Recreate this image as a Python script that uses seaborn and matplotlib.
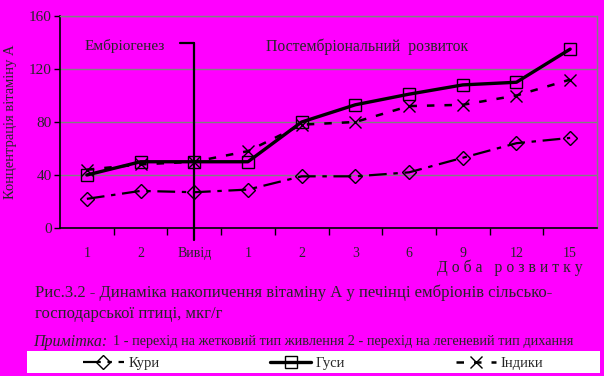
import matplotlib
matplotlib.use("Agg")
import matplotlib.pyplot as plt
import matplotlib.patches as mpatches
import seaborn as sns
import pandas as pd
import numpy as np

categories = ["1", "2", "Вивід", "1", "2", "3", "6", "9", "12", "15"]
kury = [22, 28, 27, 29, 39, 39, 42, 53, 64, 68]
gusy = [40, 50, 50, 50, 80, 93, 101, 108, 110, 135]
indyky = [44, 48, 50, 58, 78, 80, 92, 93, 100, 112]
series_names = ["Кури", "Гуси", "Індики"]

sns.set_theme(style="white")
plt.rcParams['font.family'] = ['Liberation Serif', 'DejaVu Serif']

MAG = "#FF00FF"
fig = plt.figure(figsize=(6.04, 3.76), dpi=100, facecolor=MAG)
ax = fig.add_axes([60/604, 1-228/376, 537/604, 212/376])
ax.set_facecolor(MAG)

idx = np.arange(len(categories))
df = pd.DataFrame({
    "x": np.concatenate([idx, idx, idx]),
    "y": kury + gusy + indyky,
    "s": np.repeat(series_names, len(categories)),
})

styles = {
    "Кури": dict(marker="D", ms=7, lw=1.6, dashes=(8, 3, 2, 3)),
    "Гуси": dict(marker="s", ms=9, lw=2.4, dashes=None),
    "Індики": dict(marker="x", ms=9, lw=1.8, dashes=(3, 4)),
}
handles = []
for name in series_names:
    st = styles[name]
    sub = df[df.s == name]
    sns.lineplot(data=sub, x="x", y="y", ax=ax, color="black", lw=st["lw"],
                 marker=st["marker"], markersize=st["ms"], markerfacecolor="none",
                 markeredgecolor="black", markeredgewidth=1.0, sort=False,
                 legend=False)
    ln = ax.lines[-1]
    if st["dashes"] is not None:
        ln.set_dashes(st["dashes"])
    handles.append(ln)

ax.set_xlim(-0.5, len(categories) - 0.5)
ax.set_ylim(0, 160)
ax.set_yticks([0, 40, 80, 120, 160])
ax.set_yticklabels(["0", "40", "80", "120", "160"], fontsize=11)
ax.set_xticks(idx)
ax.set_xticklabels(categories, fontsize=10)
ax.set_xticks(np.arange(0.5, len(categories) - 0.5, 1.0), minor=True)
ax.tick_params(axis="x", which="major", length=0, pad=14)
ax.tick_params(axis="x", which="minor", length=5, width=1, color="black", direction="out", bottom=True)
ax.tick_params(axis="y", which="major", length=4, width=1, color="black", direction="out", left=True, pad=2)
ax.set_xlabel("")
ax.set_ylabel("Концентрація вітаміну А", fontsize=10.5)
ax.yaxis.set_label_coords((17 - 60) / 537, 0.5)

ax.grid(axis="y", color="#808080", lw=1)
ax.set_axisbelow(True)
for side in ["left", "bottom"]:
    ax.spines[side].set_color("black")
    ax.spines[side].set_linewidth(1.2)
for side in ["top", "right"]:
    ax.spines[side].set_color("#808080")
    ax.spines[side].set_linewidth(1)

# separator between embryogenesis and post-embryonic development
ax.plot([2, 2], [-9, 139.5], color="black", lw=1.6, clip_on=False)
ax.plot([1.74, 2], [139.5, 139.5], color="black", lw=1.6, clip_on=False)

ax.text(0.71, 137, "Ембріогенез", fontsize=11, ha="center", va="center")
ax.text(5.22, 137, "Постембріональний  розвиток", fontsize=11.3, ha="center", va="center")

fig.text(583/604, 1-268/376, "Д о б а   р о з в и т к у", fontsize=11.3, ha="right", va="center")
fig.text(35/604, 1-293/376, "Рис.3.2 - Динаміка накопичення вітаміну А у печінці ембріонів сільсько-",
         fontsize=12, ha="left", va="center")
fig.text(35/604, 1-314/376, "господарської птиці, мкг/г", fontsize=12, ha="left", va="center")
fig.text(33/604, 1-342/376, "Примітка:", fontsize=11.5, style="italic", ha="left", va="center")
fig.text(113/604, 1-342/376, "1 - перехід на жетковий тип живлення 2 - перехід на легеневий тип дихання",
         fontsize=10.3, ha="left", va="center")

fig.patches.append(mpatches.Rectangle((27/604, 3/376), 573/604, 22/376, transform=fig.transFigure,
                                      facecolor="white", edgecolor="none", zorder=0))
leg = fig.legend(handles, series_names, loc="center left",
                 bbox_to_anchor=(83/604, 1-363/376),
                 ncol=3, frameon=False, fontsize=10.5,
                 handlelength=2.8, borderpad=0, borderaxespad=0, handletextpad=0.3,
                 columnspacing=7.6)

fig.savefig("out.png", dpi=100, facecolor=MAG)
